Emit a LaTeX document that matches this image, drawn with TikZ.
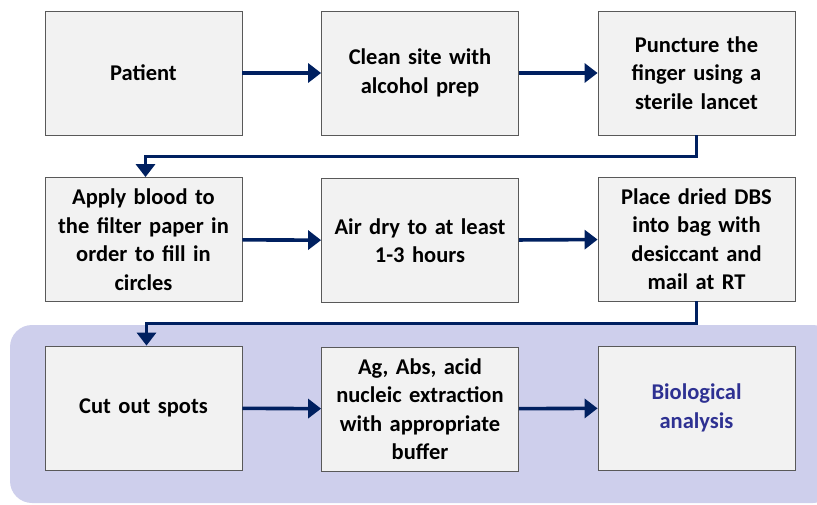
\documentclass[tikz,border=0pt]{standalone}
\usepackage{fontspec}
\setmainfont{Carlito}
\usetikzlibrary{arrows.meta}
\definecolor{navy}{RGB}{0,32,96}
\definecolor{lavender}{RGB}{206,207,236}
\definecolor{boxgray}{RGB}{242,242,242}
\definecolor{bioblue}{RGB}{46,49,146}
\tikzset{
  stepbox/.style={draw=black!65, fill=boxgray, line width=0.8pt,
    minimum width=197pt, minimum height=124pt, text width=197pt,
    align=center, inner sep=0pt,
    font=\fontsize{22.5}{28.5}\selectfont\bfseries},
  flow/.style={navy, line width=3.6pt, -{Triangle[length=13pt,width=19pt]}}
}
\begin{document}
\begin{tikzpicture}[x=1pt,y=-1pt]
    \useasboundingbox (0,0) rectangle (817,504);
    %%shaded_panel
    \begin{scope}
      \clip (0,0) rectangle (817,504);
      \fill[lavender, rounded corners=22pt] (10,325) rectangle (835,503);
    \end{scope}
    %%first_row
    \node[stepbox] (patient) at (143.5,73) {Patient};
    \node[stepbox] (clean) at (420,73) {Clean site with\\alcohol prep};
    \node[stepbox] (puncture) at (696.5,73) {Puncture the\\finger using a\\sterile lancet};
    %%second_row
    \node[stepbox] (apply) at (143.5,239.5) {Apply blood to\\the filter paper in\\order to fill in\\circles};
    \node[stepbox] (airdry) at (420,240.5) {Air dry to at least\\1-3 hours};
    \node[stepbox] (place) at (696.5,239) {Place dried DBS\\into bag with\\desiccant and\\mail at RT};
    %%third_row
    \node[stepbox] (cutout) at (143.5,408) {Cut out spots};
    \node[stepbox] (extract) at (420,409) {Ag, Abs, acid\\nucleic extraction\\with appropriate\\buffer};
    \node[stepbox, text=bioblue] (bio) at (696.5,408) {Biological\\analysis};
    %%arrows
    \draw[flow] (patient) -- (clean);
    \draw[flow] (clean) -- (puncture);
    \draw[flow] (puncture.south) -- ++(0,21) -| ([xshift=2pt]apply.north);
    \draw[flow] (apply) -- (airdry);
    \draw[flow] (airdry) -- (place);
    \draw[flow] (place.south) -- ++(0,22) -| ([xshift=3pt]cutout.north);
    \draw[flow] (cutout) -- (extract);
    \draw[flow] (extract) -- (bio);
\end{tikzpicture}
\end{document}
